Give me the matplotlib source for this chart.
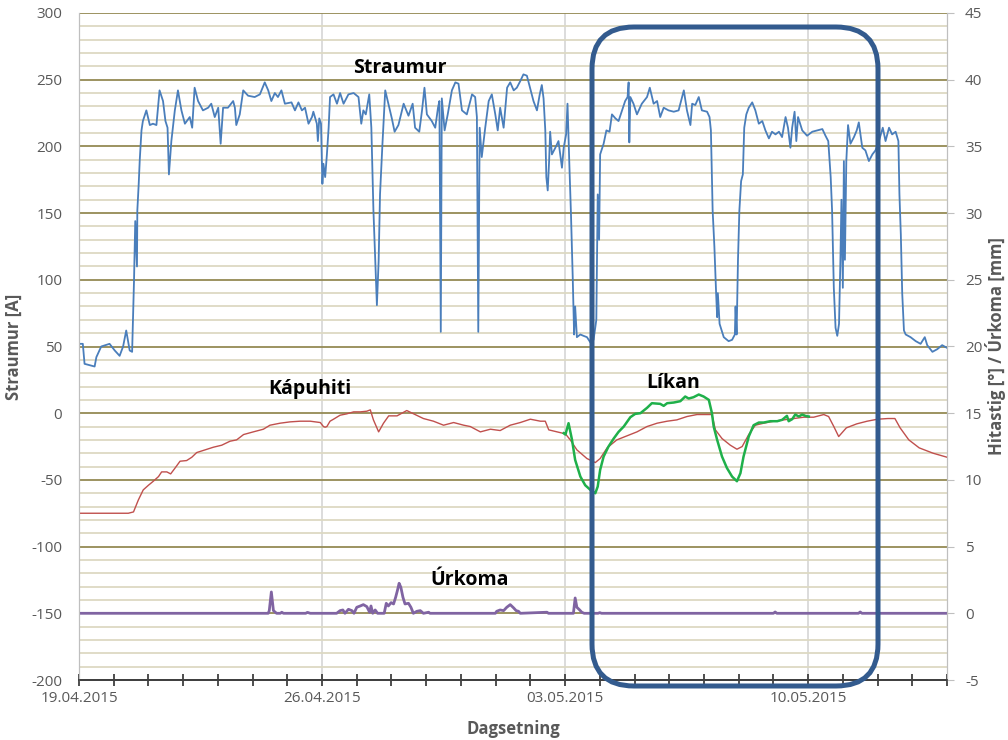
import matplotlib
matplotlib.use('Agg')
import matplotlib.pyplot as plt
import matplotlib.dates as mdates
from matplotlib.ticker import MultipleLocator
from matplotlib.patches import FancyBboxPatch
import numpy as np
import pandas as pd

plt.rcParams['font.family'] = ['Open Sans', 'DejaVu Sans']
plt.rcParams['axes.unicode_minus'] = False

# dagar = dagar frá 19.04.2015 kl 00:00
upphaf = pd.Timestamp('2015-04-19')

# Straumur [A] (vinstri ás)
s_dagar = [0.0, 0.11, 0.16, 0.30, 0.45, 0.50, 0.64, 0.88, 1.03, 1.17, 1.27, 1.36, 1.46, 1.53,
           1.585, 1.62, 1.67, 1.68, 1.72, 1.75, 1.80, 1.84, 1.94, 2.04, 2.13, 2.23, 2.32, 2.42,
           2.49, 2.55, 2.59, 2.66, 2.76, 2.85, 2.95, 3.05, 3.19, 3.26, 3.33, 3.43, 3.57, 3.72,
           3.81, 3.91, 4.01, 4.08, 4.15, 4.29, 4.44, 4.49, 4.53, 4.63, 4.73, 4.87, 5.06, 5.21,
           5.35, 5.45, 5.54, 5.64, 5.73, 5.83, 5.93, 6.12, 6.22, 6.32, 6.42, 6.51, 6.61, 6.71,
           6.75, 6.85, 6.88, 6.92, 6.97, 7.01, 7.04, 7.09, 7.14, 7.19, 7.23, 7.33, 7.43, 7.52,
           7.62, 7.76, 7.91, 8.05, 8.13, 8.19, 8.26, 8.36, 8.42, 8.48, 8.53, 8.58, 8.63, 8.67,
           8.74, 8.82, 8.91, 9.01, 9.09, 9.20, 9.35, 9.49, 9.61, 9.68, 9.80, 9.88, 9.95, 10.02,
           10.16, 10.26, 10.34, 10.38, 10.42, 10.45, 10.53, 10.62, 10.74, 10.84, 10.93, 11.03,
           11.17, 11.32, 11.41, 11.46, 11.50, 11.54, 11.60, 11.70, 11.80, 11.89, 11.99, 12.06,
           12.13, 12.23, 12.33, 12.42, 12.52, 12.61, 12.71, 12.80, 12.90, 12.99, 13.09, 13.19,
           13.27, 13.33, 13.38, 13.43, 13.46, 13.50, 13.54, 13.57, 13.62, 13.72, 13.81, 13.91,
           13.96, 14.03, 14.07, 14.12, 14.17, 14.22, 14.26, 14.29, 14.34, 14.44, 14.53, 14.63,
           14.73, 14.82, 14.90, 14.94, 14.98, 15.01, 15.11, 15.19, 15.28, 15.35, 15.45, 15.54,
           15.64, 15.73, 15.80, 15.83, 15.85, 15.88, 15.97, 16.07, 16.21, 16.36, 16.44, 16.55,
           16.65, 16.74, 16.84, 16.98, 17.13, 17.27, 17.42, 17.51, 17.61, 17.66, 17.75, 17.85,
           17.94, 18.09, 18.16, 18.20, 18.25, 18.30, 18.35, 18.38, 18.40, 18.45, 18.57, 18.71,
           18.81, 18.89, 18.91, 18.94, 18.98, 19.02, 19.07, 19.12, 19.16, 19.22, 19.29, 19.39,
           19.48, 19.58, 19.68, 19.77, 19.87, 19.96, 20.06, 20.16, 20.25, 20.35, 20.42, 20.49,
           20.54, 20.61, 20.66, 20.71, 20.83, 20.97, 21.12, 21.26, 21.41, 21.50, 21.58, 21.65,
           21.69, 21.74, 21.79, 21.84, 21.89, 21.93, 21.96, 22.00, 22.03, 22.06, 22.10, 22.15,
           22.22, 22.32, 22.40, 22.46, 22.56, 22.65, 22.75, 22.85, 22.94, 23.05, 23.15, 23.23,
           23.33, 23.42, 23.52, 23.60, 23.63, 23.67, 23.71, 23.76, 23.81, 23.95, 24.10, 24.24,
           24.36, 24.43, 24.58, 24.72, 24.86, 25.0]
s_straumur = [52, 52, 37, 36, 35, 42, 50, 52, 47, 43, 50, 62, 47, 46,
              100, 144, 110, 152, 172, 190, 212, 219, 227, 216, 217, 216, 242, 234,
              219, 214, 179, 204, 227, 242, 227, 217, 222, 214, 244, 234, 227, 229,
              232, 222, 229, 202, 229, 229, 234, 229, 216, 224, 242, 238, 237, 239,
              248, 242, 234, 240, 237, 242, 232, 233, 227, 233, 227, 229, 217, 222,
              226, 217, 204, 221, 217, 172, 187, 177, 194, 214, 237, 239, 232, 240,
              232, 239, 240, 237, 217, 227, 224, 239, 214, 152, 117, 81, 114, 164,
              202, 242, 232, 221, 211, 216, 232, 223, 232, 214, 211, 227, 244, 224,
              219, 214, 229, 234, 61, 236, 212, 224, 242, 248, 247, 227,
              224, 239, 237, 222, 61, 214, 192, 214, 234, 239, 224, 212,
              229, 214, 244, 248, 242, 244, 249, 254, 253, 244, 234, 227,
              239, 246, 236, 212, 177, 167, 189, 211, 194, 199, 204, 184,
              199, 209, 232, 189, 149, 102, 59, 80, 57, 59, 58, 57,
              53, 55, 70, 164, 130, 194, 202, 212, 211, 224, 221, 219,
              227, 234, 237, 248, 203, 237, 232, 224, 232, 237, 244, 232,
              234, 222, 229, 227, 226, 227, 242, 227, 216, 232, 231, 237,
              227, 226, 222, 212, 152, 125, 90, 72, 90, 67, 57, 54,
              55, 59, 80, 59, 115, 152, 174, 179, 214, 224, 229, 233,
              227, 217, 219, 212, 206, 211, 209, 211, 207, 222, 214, 199,
              214, 226, 204, 222, 212, 208, 211, 212, 213, 208, 204, 177,
              152, 94, 64, 58, 67, 115, 160, 94, 189, 115, 189, 216,
              202, 207, 212, 218, 199, 197, 189, 194, 197, 205, 214, 204,
              214, 209, 211, 204, 164, 134, 90, 62, 59, 57, 54, 52,
              57, 51, 46, 48, 51, 49]

# Kápuhiti [°C] (hægri ás)
k_dagar = [0, 1.42, 1.57, 1.71, 1.85, 2.0, 2.14, 2.29, 2.38, 2.53, 2.64, 2.77, 2.91, 3.10,
           3.25, 3.39, 3.63, 3.87, 4.11, 4.35, 4.54, 4.74, 5.02, 5.31, 5.50, 5.79, 6.08, 6.37,
           6.66, 6.95, 7.04, 7.09, 7.14, 7.23, 7.33, 7.52, 7.71, 7.91, 8.10, 8.29, 8.39, 8.48,
           8.63, 8.77, 8.92, 9.16, 9.44, 9.68, 9.92, 10.21, 10.50, 10.79, 11.08, 11.27, 11.56,
           11.85, 12.13, 12.42, 12.71, 13.00, 13.29, 13.43, 13.53, 13.77, 14.01, 14.15, 14.34,
           14.63, 14.87, 15.01, 15.21, 15.49, 15.78, 16.07, 16.36, 16.65, 16.94, 17.22, 17.51,
           17.80, 18.09, 18.23, 18.33, 18.52, 18.76, 18.95, 19.10, 19.29, 19.48, 19.72, 20.01,
           20.30, 20.59, 20.87, 21.16, 21.45, 21.59, 21.74, 21.88, 22.1, 22.4, 22.7, 23.0,
           23.3, 23.5, 23.65, 23.9, 24.2, 24.6, 25.0]
k_hiti = [7.5, 7.5, 7.6, 8.5, 9.25, 9.6, 9.9, 10.25, 10.6, 10.6, 10.45, 10.9, 11.4, 11.45,
          11.7, 12.05, 12.25, 12.45, 12.6, 12.9, 13.0, 13.4, 13.6, 13.8, 14.1, 14.25, 14.35, 14.4,
          14.4, 14.3, 14.0, 13.95, 14.0, 14.4, 14.55, 14.85, 14.95, 15.1, 15.1, 15.15, 15.25, 14.5,
          13.6, 14.25, 14.8, 14.8, 15.2, 14.9, 14.6, 14.4, 14.1, 14.3, 14.1, 14.0, 13.6,
          13.8, 13.7, 14.1, 14.3, 14.55, 14.4, 14.4, 13.75, 13.6, 13.45, 13.0, 12.25,
          11.6, 11.3, 11.6, 12.4, 13.0, 13.3, 13.6, 14.0, 14.25, 14.4, 14.5, 14.75,
          14.9, 14.9, 14.9, 13.75, 13.1, 12.6, 12.3, 12.5, 13.4, 14.1, 14.25, 14.4,
          14.5, 14.6, 14.7, 14.7, 14.9, 14.75, 14.0, 13.25, 13.9, 14.2, 14.4, 14.55,
          14.6, 14.6, 13.9, 13.0, 12.4, 12.0, 11.7]

# Líkan [°C] (hægri ás)
l_dagar = [13.96, 14.01, 14.10, 14.20, 14.29, 14.44, 14.58, 14.73, 14.87, 14.94, 15.01, 15.11,
           15.25, 15.40, 15.54, 15.69, 15.88, 16.02, 16.17, 16.36, 16.50, 16.74, 16.84, 16.94,
           17.13, 17.32, 17.46, 17.56, 17.70, 17.85, 17.99, 18.14, 18.23, 18.28, 18.38, 18.52,
           18.66, 18.81, 18.95, 19.05, 19.14, 19.29, 19.43, 19.58, 19.72, 19.91, 20.11, 20.25,
           20.39, 20.44, 20.54, 20.63, 20.73, 20.83, 20.92, 21.02]
l_hiti = [13.5, 13.4, 14.25, 13.0, 11.5, 10.25, 9.6, 9.25, 9.0, 9.5, 10.75, 11.75,
          12.5, 13.1, 13.6, 14.0, 14.7, 14.95, 15.0, 15.4, 15.75, 15.7, 15.55, 15.75,
          15.8, 15.9, 16.25, 16.1, 16.2, 16.4, 16.25, 16.0, 15.0, 14.0, 13.0, 11.75,
          10.9, 10.25, 9.9, 10.5, 11.75, 13.25, 14.1, 14.3, 14.3, 14.4, 14.4, 14.5,
          14.8, 14.4, 14.55, 14.9, 14.75, 14.9, 14.8, 14.75]

# Úrkoma [mm] (hægri ás)
u_dagar = [0, 5.45, 5.48, 5.54, 5.60, 5.69, 5.80, 5.84, 5.89, 6.53, 6.58, 6.66, 7.42, 7.52,
           7.60, 7.66, 7.76, 7.86, 7.92, 8.00, 8.10, 8.19, 8.29, 8.37, 8.41, 8.46, 8.53, 8.60,
           8.79, 8.85, 8.91, 8.99, 9.06, 9.12, 9.17, 9.22, 9.27, 9.33, 9.39, 9.49, 9.56, 9.63,
           9.73, 9.83, 9.92, 10.07, 10.11, 11.99, 12.03, 12.13, 12.23, 12.32, 12.42, 12.52,
           12.59, 12.66, 12.71, 13.48, 13.52, 14.24, 14.29, 14.34, 14.42, 14.48, 14.55, 14.95,
           15.0, 15.05, 20.0, 20.05, 20.1, 22.45, 22.5, 22.55, 25.0]
u_mm = [0, 0, 0.2, 1.6, 0.2, 0, 0, 0.08, 0, 0, 0.07, 0, 0, 0.2,
        0.25, 0, 0.3, 0.2, 0, 0.45, 0.55, 0.65, 0.5, 0.08, 0.55, 0, 0.25, 0,
        0, 0.75, 0.55, 0.8, 0.7, 1.2, 1.7, 2.25, 1.95, 1.2, 0.7, 0.75, 0.45, 0,
        0.15, 0.2, 0, 0.08, 0, 0, 0.15, 0.25, 0.2, 0.45, 0.65, 0.4,
        0.2, 0.15, 0, 0.08, 0, 0, 1.15, 0.45, 0.25, 0.08, 0, 0,
        0.05, 0, 0, 0.1, 0, 0, 0.1, 0, 0]


def dags(d):
    return upphaf + pd.to_timedelta(np.array(d), unit='D')


grar = '#595959'

fig = plt.figure(figsize=(10.08, 7.40), dpi=100)
ax = fig.add_axes([79 / 1008, 60 / 740, 868 / 1008, 667 / 740])
ax2 = ax.twinx()

ax.plot(dags(s_dagar), s_straumur, color='#4a7ebb', lw=1.3, zorder=3)
ax2.plot(dags(k_dagar), k_hiti, color='#c0504d', lw=1.0)
ax2.plot(dags(l_dagar), l_hiti, color='#1fb04a', lw=1.8)
ax2.plot(dags(u_dagar), u_mm, color='#8064a2', lw=2.0)

ax.set_xlim(upphaf, upphaf + pd.Timedelta(days=25))
ax.set_ylim(-200, 300)
ax2.set_ylim(-5, 45)

ax.yaxis.set_major_locator(MultipleLocator(50))
ax.yaxis.set_minor_locator(MultipleLocator(10))
ax2.yaxis.set_major_locator(MultipleLocator(5))
ax.xaxis.set_major_locator(mdates.DayLocator(bymonthday=[19, 26, 3, 10]))
ax.xaxis.set_minor_locator(mdates.DayLocator())
ax.xaxis.set_major_formatter(mdates.DateFormatter('%d.%m.%Y'))

ax.grid(which='major', axis='y', color='#948a54', lw=1.3)
ax.grid(which='minor', axis='y', color='#ddd9c3', lw=1.3)
ax.grid(which='major', axis='x', color='#d9d9d9', lw=1.3)
ax.set_axisbelow(True)

for a in (ax, ax2):
    a.spines['top'].set_visible(False)
    a.spines['left'].set_color('#bfbfbf')
    a.spines['right'].set_color('#bfbfbf')
    a.spines['bottom'].set_color('#404040')
    a.spines['bottom'].set_linewidth(1.3)

ax.tick_params(axis='y', which='both', length=0, pad=12, labelsize=11, labelcolor=grar)
ax2.tick_params(axis='y', which='both', length=5, color='#bfbfbf', pad=8, labelsize=11, labelcolor=grar)
ax.tick_params(axis='x', which='both', direction='inout', length=8, width=1.3, color='#404040',
               pad=4, labelsize=11, labelcolor=grar)

ax.set_ylabel('Straumur [A]', fontsize=12, fontweight='bold', color=grar, labelpad=6)
ax2.set_ylabel('Hitastig [°] / Úrkoma [mm]', fontsize=12, fontweight='bold', color=grar, labelpad=2)
ax.set_xlabel('Dagsetning', fontsize=12, fontweight='bold', color=grar, labelpad=10)

txt = dict(fontsize=14, fontweight='bold', color='black', ha='center', va='center', transform=ax.transAxes)
ax.text(0.370, 0.918, 'Straumur', **txt)
ax.text(0.266, 0.437, 'Kápuhiti', **txt)
ax.text(0.684, 0.445, 'Líkan', **txt)
ax.text(0.450, 0.150, 'Úrkoma', **txt)

# rammi utan um tímabilið með líkaninu
rammi = FancyBboxPatch((5.92, 0.54), 2.86, 6.59,
                       boxstyle='round,pad=0,rounding_size=0.42',
                       transform=fig.dpi_scale_trans, fill=False,
                       edgecolor='#335b8e', lw=3.6, clip_on=False, zorder=10)
fig.patches.append(rammi)

fig.savefig('out.png', dpi=100)
